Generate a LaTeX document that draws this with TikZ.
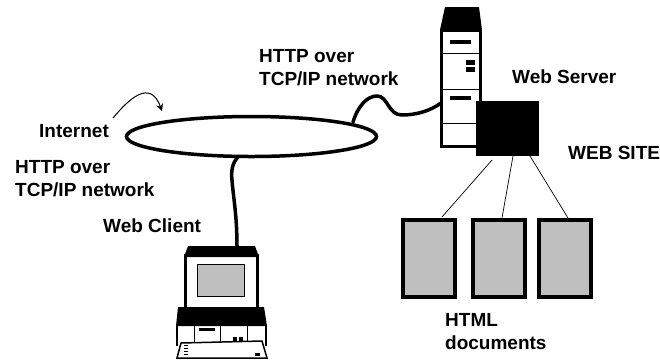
\documentclass[tikz,border=0pt]{standalone}
\usepackage{fontspec}
\setmainfont{Liberation Sans}
\usetikzlibrary{arrows.meta,shapes.geometric}
\tikzset{
    lbl/.style={anchor=base west,align=left,inner sep=0pt,font=\fontsize{19}{23}\selectfont\bfseries},
    cable/.style={line width=3.5pt,line cap=round},
    page/.style={draw=black,line width=4pt,fill=docgray,minimum width=52pt,minimum height=77pt,inner sep=0pt,outer sep=0pt},
    link/.style={black,line width=0.7pt}
}
\definecolor{docgray}{gray}{0.75}
\begin{document}
\begin{tikzpicture}[x=1pt,y=-1pt]
    \useasboundingbox (0,0) rectangle (660,360);
    % internet ring
    \node[ellipse,draw=black,line width=3.5pt,minimum width=250pt,minimum height=40pt,inner sep=0pt] (net) at (251.5,136.5) {};
    \coordinate (netup) at (353,122);
    \coordinate (netdown) at (238,157);
    \coordinate (arrowfrom) at (113,118);
    \coordinate (arrowto) at (162,111);
    \draw[-{Stealth[length=7pt,width=7pt]},line width=1pt] (arrowfrom) .. controls (128,100) and (150,78) .. (arrowto);
    % server
    \fill[black] (445,7) -- (479,7) -- (482,30) -- (440,30) -- cycle;
    \draw[line width=3pt] (441.5,30) rectangle (480.5,146.5);
    \draw[line width=1pt] (441,53) -- (481,53);
    \draw[line width=1pt] (441,89) -- (481,89);
    \draw[line width=1pt] (441,123) -- (481,123);
    \fill[black] (450,40) rectangle (471,44);
    \fill[black] (450,96) rectangle (471,100);
    \fill[black] (466,60) rectangle (475,65);
    \fill[black] (466,67) rectangle (475,72);
    \node[fill=black,minimum width=63pt,minimum height=55pt,inner sep=0pt] (site) at (507.5,128.5) {};
    \coordinate (srvport) at (441,103);
    \draw[cable] (netup) .. controls (358,106) and (367,96) .. (377,96) .. controls (388,96) and (388,115) .. (402,115) .. controls (416,115) and (430,111) .. (srvport);
    % documents
    \foreach \nm/\x in {doca/429,docb/499,docc/565} {
        \node[page] (\nm) at (\x,258) {};
    }
    \coordinate (sitea) at (492,160);
    \coordinate (siteb) at (513,156);
    \coordinate (sitec) at (530,156);
    \coordinate (docatop) at (442,217);
    \coordinate (docbtop) at (502,218);
    \coordinate (docctop) at (568,218);
    \draw[link] (sitea) -- (docatop);
    \draw[link] (siteb) -- (docbtop);
    \draw[link] (sitec) -- (docctop);
    % client
    \fill[black] (188,246) -- (255,246) -- (259,257) -- (184,257) -- cycle;
    \draw[line width=2.5pt] (185.5,255) rectangle (257.5,308);
    \draw[line width=1.5pt,fill=docgray] (197.5,264.5) rectangle (244.5,296.5);
    \fill[black] (178,307) -- (264,307) -- (267,326) -- (176,326) -- cycle;
    \draw[line width=2pt] (177,326) -- (177,346) (266,326) -- (266,346);
    \foreach \x in {194,220,247} {
        \draw[line width=1pt] (\x,326) -- (\x,342);
    }
    \fill[black] (199,328) rectangle (215,331);
    \fill[black] (233,337) rectangle (237,341);
    \fill[black] (239,337) rectangle (243,341);
    \draw[line width=1.5pt,fill=white,line join=miter] (181,343) -- (262,341) -- (267,358) -- (177,358) -- cycle;
    \foreach \y in {345,348,351,354} {
        \draw[line width=1pt] (184,\y) -- (188,\y);
    }
    \fill[black] (255,353) rectangle (260,355.5);
    \coordinate (pctop) at (237,246);
    \draw[cable] (netdown) .. controls (232,163) and (231,172) .. (232,180) .. controls (233,195) and (237,215) .. (pctop);
    % labels
    \node[lbl] (lblinternet) at (39,137) {Internet};
    \node[lbl] (lblhttpa) at (15,196) {HTTP over\\TCP/IP network};
    \node[lbl] (lblclient) at (103,232) {Web Client};
    \node[lbl] (lblhttpb) at (259,85) {HTTP over\\TCP/IP network};
    \node[lbl] (lblserver) at (512,83) {Web Server};
    \node[lbl] (lblsite) at (568,159) {WEB SITE};
    \node[lbl] (lblhtml) at (445,349) {HTML\\documents};
\end{tikzpicture}
\end{document}
